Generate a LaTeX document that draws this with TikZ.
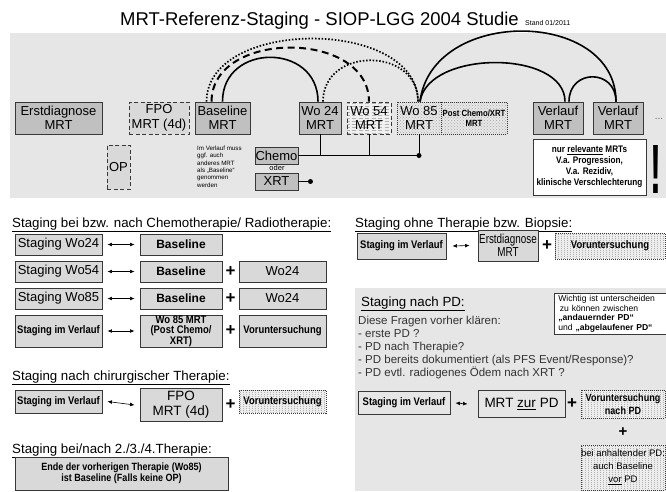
\documentclass[tikz,border=0pt]{standalone}
\usepackage{fontspec}
\usepackage{graphicx}
\setmainfont{Liberation Sans}
\newfontfamily\nfont[FakeStretch=0.86]{Liberation Sans}
\newfontfamily\cfont[FakeStretch=0.76]{Liberation Sans}
\usetikzlibrary{arrows.meta,patterns,calc}
\definecolor{panel}{HTML}{E6E6E6}
\definecolor{dkbox}{HTML}{C0C0C0}
\definecolor{ltbox}{HTML}{D9D9D9}
\definecolor{edge}{HTML}{383838}
\newcommand\fsz[2]{\fontsize{#1}{#2}\selectfont}
\begin{document}
\begin{tikzpicture}[x=1pt,y=-1pt,
  bx/.style={draw=edge, line width=0.9pt, inner sep=0pt, align=center, font=\fsz{13}{14.5}},
  dk/.style={bx, fill=dkbox},
  lt/.style={bx, fill=ltbox},
  dsh/.style={dash pattern=on 4pt off 2.5pt},
  dtt/.style={dash pattern=on 1pt off 1pt},
  hatch/.style={preaction={fill=gray!12}, pattern=horizontal lines, pattern color=gray!60},
  stip/.style={preaction={fill=gray!18}, pattern=crosshatch dots, pattern color=gray!70},
  vstr/.style={preaction={fill=gray!14}, pattern=vertical lines, pattern color=gray!60},
  nb/.style={font=\nfont\bfseries\fsz{11}{11}},
  head/.style={anchor=base west, font=\fsz{13.3}{15}, inner sep=0pt},
  dbl/.style={{Latex[length=4.5pt,width=3.8pt]}-{Latex[length=4.5pt,width=3.8pt]}, line width=0.6pt},
  plus/.style={font=\bfseries\fsz{17}{17}, inner sep=0pt},
  arcs/.style={line width=1.6pt},
  arcdot/.style={line width=1.7pt, dash pattern=on 1.5pt off 1.8pt},
  arcdash/.style={line width=2pt, dash pattern=on 7pt off 4.5pt},
  wire/.style={line width=0.7pt}
]
\useasboundingbox (0,0) rectangle (666,491);
\fill[white] (0,0) rectangle (666,491);

% title
\node[anchor=base west, inner sep=0pt, font=\fsz{18.5}{20}] (title) at (120,25) {MRT-Referenz-Staging - SIOP-LGG 2004 Studie};
\node[anchor=base west, inner sep=0pt, font=\fsz{7}{8}] (stand) at ([xshift=6pt]title.base east) {Stand 01/2011};

% top panel
\fill[panel] (10,33) rectangle (666,198);

\node[dk, minimum width=87, minimum height=32] (erst) at (58.5,118) {Erstdiagnose\\MRT};
\node[bx, dsh, fill=ltbox, minimum width=60, minimum height=32] (fpo) at (159,118) {FPO\\MRT (4d)};
\node[dk, minimum width=55, minimum height=32] (base) at (222.5,118) {Baseline\\MRT};
\node[dk, minimum width=42, minimum height=32] (wo24) at (320,118) {Wo 24\\MRT};
\node[bx, dsh, hatch, minimum width=44, minimum height=32] (wo54) at (369,118) {Wo 54\\MRT};
\node[bx, dtt, stip, minimum width=44, minimum height=32] (wo85) at (419,118) {Wo 85\\MRT};
\node[bx, dtt, stip, minimum width=66, minimum height=32, font=\nfont\bfseries\fsz{9}{10}] (post) at (474,118) {Post Chemo/XRT\\MRT};
\node[dk, minimum width=50, minimum height=32] (verl1) at (558,118) {Verlauf\\MRT};
\node[dk, minimum width=50, minimum height=32] (verl2) at (618,118) {Verlauf\\MRT};
\node[inner sep=0pt, font=\fsz{10}{10}, text=black!60] (more) at (659,119) {...};

\node[bx, dsh, fill=ltbox, minimum width=23, minimum height=44] (op) at (118.5,167) {OP};
\node[anchor=north west, inner sep=0pt, align=left, font=\fsz{6.2}{7.3}] (note) at (197,146) {Im Verlauf muss\\ggf. auch\\anderes MRT\\als „Baseline“\\genommen\\werden};
\node[dk, minimum width=43, minimum height=17] (chemo) at (276.5,155.5) {Chemo};
\node[inner sep=0pt, font=\fsz{7.5}{8}] (oder) at (277,168) {oder};
\node[dk, minimum width=43, minimum height=17] (xrt) at (276.5,181.5) {XRT};

\coordinate (junc) at (wo85.south |- chemo.east);
\draw[wire] (chemo.east) -- (junc);
\draw[wire] (wo24.south) -- (wo24.south |- junc);
\draw[wire] (wo54.south) -- (wo54.south |- junc);
\draw[wire] (wo85.south) -- (junc);
\fill (junc) circle (2.5pt);
\coordinate (xdot) at ([xshift=12pt]xrt.east);
\draw[wire] (xrt.east) -- (xdot);
\fill (xdot) circle (2.5pt);

\node[bx, fill=white, line width=0.7pt, minimum width=113, minimum height=56, font=\nfont\bfseries\fsz{9.5}{11}] (relev) at (589.5,167) {nur \underline{relevante} MRTs\\V.a. Progression,\\V.a. Rezidiv,\\klinische Verschlechterung};
\node[inner sep=0pt] (bang) at (656,169) {\resizebox{11pt}{48pt}{\bfseries !}};

% arcs
\draw[arcdot] ($(base.north west)+(12,0)$) .. controls +(0,-84) and +(0,-84) .. ($(wo85.north)+(-1,0)$);
\draw[arcdash] ($(base.north west)+(17,0)$) .. controls +(0,-72) and +(0,-72) .. (wo54.north);
\draw[arcs] (base.north) .. controls +(0,-59) and +(0,-59) .. ($(wo24.north)+(-2,0)$);
\draw[arcdot] ($(wo24.north)+(3,0)$) .. controls +(0,-55) and +(0,-55) .. ($(wo85.north)+(-1,0)$);
\draw[arcs] ($(wo85.north)+(1,0)$) .. controls +(12,-95) and +(0,-93) .. ($(verl2.north)+(-2,0)$);
\draw[arcs] ($(wo85.north)+(1,0)$) .. controls +(8,-52) and +(0,-52) .. ($(verl1.north)+(7,0)$);
\draw[arcs] ($(verl1.north)+(11,0)$) .. controls +(0,-33) and +(0,-33) .. ($(verl2.north)+(-2,0)$);

% section 1
\node[head] (h1) at (12,227) {\underline{Staging bei bzw. nach Chemotherapie/ Radiotherapie:}};
\node[lt, minimum width=87, minimum height=21] (s24) at (58.5,244.5) {Staging Wo24};
\node[lt, minimum width=82, minimum height=21, font=\bfseries\fsz{12}{13}] (b24) at (181,244.5) {Baseline};
\draw[dbl] ([xshift=5pt]s24.east) -- ([xshift=-5pt]b24.west);

\node[lt, minimum width=87, minimum height=21] (s54) at (58.5,271.5) {Staging Wo54};
\node[lt, minimum width=82, minimum height=21, font=\bfseries\fsz{12}{13}] (b54) at (181,271.5) {Baseline};
\node[plus] (p54) at (230.5,272) {+};
\node[lt, minimum width=87, minimum height=21] (w54) at (282.5,271.5) {Wo24};
\draw[dbl] ([xshift=5pt]s54.east) -- ([xshift=-5pt]b54.west);

\node[lt, minimum width=87, minimum height=21] (s85) at (58.5,298.5) {Staging Wo85};
\node[lt, minimum width=82, minimum height=21, font=\bfseries\fsz{12}{13}] (b85) at (181,298.5) {Baseline};
\node[plus] (p85) at (230.5,299) {+};
\node[lt, minimum width=87, minimum height=21] (w85) at (282.5,298.5) {Wo24};
\draw[dbl] ([xshift=5pt]s85.east) -- ([xshift=-5pt]b85.west);

\node[lt, nb, minimum width=87, minimum height=32] (sv) at (58.5,331) {Staging im Verlauf};
\node[lt, minimum width=82, minimum height=32, font=\nfont\bfseries\fsz{11}{10}] (pcx) at (181,331) {Wo 85 MRT\\(Post Chemo/\\XRT)};
\node[plus] (pv) at (230.5,331) {+};
\node[lt, nb, minimum width=87, minimum height=32] (vu) at (282.5,331) {Voruntersuchung};
\draw[dbl] ([xshift=5pt]sv.east) -- ([xshift=-5pt]pcx.west);

% section 2
\node[head] (h2) at (12,380) {\underline{Staging nach chirurgischer Therapie:}};
\node[lt, nb, minimum width=87, minimum height=23] (sc) at (58.5,401.5) {Staging im Verlauf};
\node[lt, minimum width=82, minimum height=33, font=\fsz{13.5}{15}] (fc) at (181,405) {FPO\\MRT (4d)};
\node[plus] (pc2) at (230.5,405) {+};
\node[bx, nb, dtt, vstr, minimum width=87, minimum height=23] (vc) at (282.5,401.5) {Voruntersuchung};
\draw[dbl] ([xshift=5pt]sc.east) -- ([xshift=-5pt]fc.west);

% section 3
\node[head] (h3) at (12,453) {\underline{Staging bei/nach 2./3./4.Therapie:}};
\node[lt, minimum width=213, minimum height=33, font=\nfont\bfseries\fsz{10.5}{11.5}] (ende) at (121.5,473.5) {Ende der vorherigen Therapie (Wo85)\\ist Baseline (Falls keine OP)};

% right: ohne Therapie
\node[head] (h4) at (355,227) {\underline{Staging ohne Therapie bzw. Biopsie:}};
\node[lt, nb, minimum width=89, minimum height=26] (so) at (401.5,246) {Staging im Verlauf};
\node[lt, minimum width=60, minimum height=31, font=\cfont\fsz{13}{13.5}] (eo) at (508,245.5) {Erstdiagnose\\MRT};
\node[plus] (po) at (547,246) {+};
\node[bx, nb, dtt, vstr, minimum width=110, minimum height=26] (vo) at (610,246) {Voruntersuchung};
\draw[dbl] ([xshift=6pt]so.east) -- ([xshift=-8pt]eo.west);

% PD panel
\fill[panel] (355,288) rectangle (666,491);
\node[head] (h5) at (361,306) {\underline{Staging nach PD:}};
\node[draw=edge, fill=white, line width=0.7pt, anchor=north west, text width=104, inner xsep=4pt, inner ysep=2pt, minimum height=37, align=left, font=\fsz{8.6}{9.7}] (wich) at (554,293) {Wichtig ist unterscheiden\\\hspace{1.5pt}zu können zwischen\\\textbf{„andauernder PD“}\\und \textbf{„abgelaufener PD“}};
\node[anchor=north west, inner sep=0pt, align=left, font=\fsz{11.5}{13}, text=black!80] (list) at (358,316) {Diese Fragen vorher klären:\\- erste PD ?\\- PD nach Therapie?\\- PD bereits dokumentiert (als PFS Event/Response)?\\- PD evtl. radiogenes Ödem nach XRT ?};

\node[bx, nb, fill=panel, minimum width=92, minimum height=23] (spd) at (404,403) {Staging im Verlauf};
\node[bx, fill=panel, minimum width=87, minimum height=27, font=\fsz{13.5}{14}] (mpd) at (521.5,404) {MRT \underline{zur} PD};
\node[plus] (ppd) at (572,404) {+};
\node[bx, dtt, vstr, minimum width=84, minimum height=28, font=\nfont\bfseries\fsz{10.5}{12.5}] (vpd) at (623,404) {Voruntersuchung\\nach PD};
\node[plus, font=\bfseries\fsz{15}{15}] (ppd2) at (623,432) {+};
\node[bx, dtt, vstr, minimum width=84, minimum height=45, font=\fsz{9.5}{13}] (bpd) at (623,467.5) {bei anhaltender PD:\\auch Baseline\\\underline{vor} PD};
\draw[dbl] ([xshift=5pt]spd.east) -- ([xshift=-10pt]mpd.west);
\end{tikzpicture}
\end{document}
